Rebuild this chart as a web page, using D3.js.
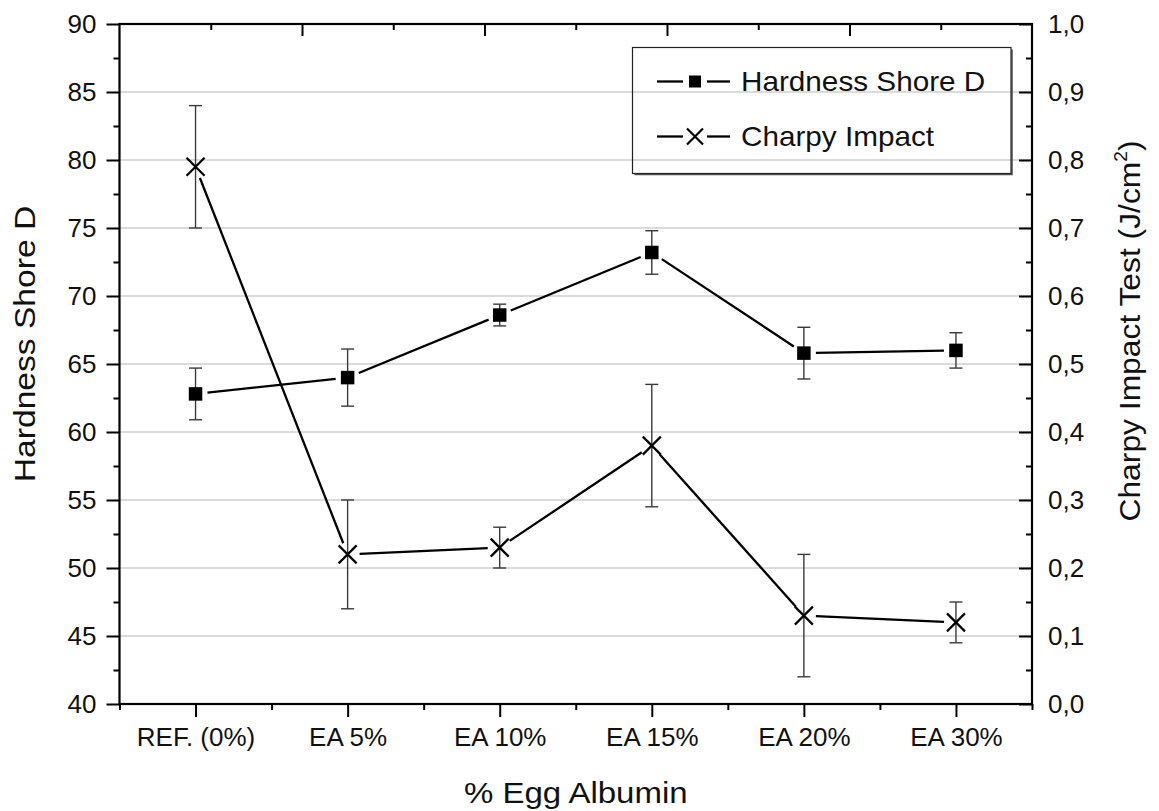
<!DOCTYPE html>
<html>
<head>
<meta charset="utf-8">
<script src="https://cdn.jsdelivr.net/npm/d3@7"></script>
<style>
  html, body { margin: 0; padding: 0; background: #fff; }
  svg { display: block; }
  text { font-family: "Liberation Sans", Arial, Helvetica, sans-serif; fill: #111; }
</style>
</head>
<body>
<svg id="chart" width="1159" height="811"></svg>
<script>
// ---------------- data ----------------
const categories = ["REF. (0%)", "EA 5%", "EA 10%", "EA 15%", "EA 20%", "EA 30%"];
const hardness = [62.8, 64.0, 68.6, 73.2, 65.8, 66.0];
const hardnessErr = [1.9, 2.1, 0.8, 1.6, 1.9, 1.3];
const charpy = [0.79, 0.22, 0.23, 0.38, 0.13, 0.12];
const charpyErr = [0.09, 0.08, 0.03, 0.09, 0.09, 0.03];
const leftTicks = [40, 45, 50, 55, 60, 65, 70, 75, 80, 85, 90];
const leftMinor = [42.5, 47.5, 52.5, 57.5, 62.5, 67.5, 72.5, 77.5, 82.5, 87.5];
const rightTicks = [0, 0.1, 0.2, 0.3, 0.4, 0.5, 0.6, 0.7, 0.8, 0.9, 1.0];
const rightMinor = [0.05, 0.15, 0.25, 0.35, 0.45, 0.55, 0.65, 0.75, 0.85, 0.95];
const seriesNames = ["Hardness Shore D", "Charpy Impact"];
const xTitle = "% Egg Albumin";
const yLeftTitle = "Hardness Shore D";
const yRightTitle = "Charpy Impact Test (J/cm";

// ---------------- layout ----------------
const L = 119.5, R = 1032, T = 24, B = 704;
const svg = d3.select("#chart");
const font = '"Liberation Sans", Arial, Helvetica, sans-serif';

const idx = categories.map((d, i) => i + 1);
const x = d3.scaleLinear().domain([0.5, 6.5]).range([L, R]);
const yL = d3.scaleLinear().domain([40, 90]).range([B, T]);
const yR = d3.scaleLinear().domain([0, 1]).range([B, T]);
const xTop = d3.scaleLinear().domain([0, 10]).range([L, R]);

// gridlines
svg.append("g")
  .selectAll("line")
  .data(leftTicks.filter(v => v > 40 && v < 90))
  .join("line")
  .attr("x1", L).attr("x2", R)
  .attr("y1", d => yL(d)).attr("y2", d => yL(d))
  .attr("stroke", "#cfcfcf").attr("stroke-width", 1.3);

function styleAxis(g, sw) {
  g.select(".domain").remove();
  g.selectAll(".tick line").attr("stroke", "#000").attr("stroke-width", sw || 2);
  g.selectAll("text").attr("font-size", 26).attr("fill", "#111").attr("font-family", font);
}

// left axis
svg.append("g").attr("transform", `translate(${L},0)`)
  .call(d3.axisLeft(yL).tickValues(leftTicks).tickSize(13).tickPadding(10).tickFormat(d3.format("d")))
  .call(g => styleAxis(g));
svg.append("g").attr("transform", `translate(${L},0)`)
  .call(d3.axisLeft(yL).tickValues(leftMinor).tickSize(6).tickFormat(""))
  .call(g => styleAxis(g));

// right axis (inward ticks)
const commaFmt = d => d3.format(".1f")(d).replace(".", ",");
svg.append("g").attr("transform", `translate(${R},0)`)
  .call(d3.axisRight(yR).tickValues(rightTicks).tickSize(-13).tickPadding(16).tickFormat(commaFmt))
  .call(g => styleAxis(g));
svg.append("g").attr("transform", `translate(${R},0)`)
  .call(d3.axisRight(yR).tickValues(rightMinor).tickSize(-6).tickFormat(""))
  .call(g => styleAxis(g));

// bottom axis
svg.append("g").attr("transform", `translate(0,${B})`)
  .call(d3.axisBottom(x).tickValues(idx).tickSize(13).tickPadding(11).tickFormat((d, i) => categories[i]))
  .call(g => styleAxis(g));
svg.append("g").attr("transform", `translate(0,${B})`)
  .call(d3.axisBottom(x).tickValues([0.5, 1.5, 2.5, 3.5, 4.5, 5.5, 6.5]).tickSize(6).tickFormat(""))
  .call(g => styleAxis(g));

// top axis (inward, unlabeled)
svg.append("g").attr("transform", `translate(0,${T})`)
  .call(d3.axisTop(xTop).tickValues([2, 4, 6, 8]).tickSize(-12).tickFormat(""))
  .call(g => styleAxis(g));
svg.append("g").attr("transform", `translate(0,${T})`)
  .call(d3.axisTop(xTop).tickValues([1, 3, 5, 7, 9]).tickSize(-6).tickFormat(""))
  .call(g => styleAxis(g));

// frame
svg.append("rect").attr("x", L).attr("y", T).attr("width", R - L).attr("height", B - T)
  .attr("fill", "none").attr("stroke", "#000").attr("stroke-width", 2.2);

// ---------------- titles ----------------
function scaledText(tx, ty, rot, sx, size, str) {
  const g = svg.append("g").attr("transform", `translate(${tx},${ty}) rotate(${rot}) scale(${sx},1)`);
  const t = g.append("text").attr("x", 0).attr("y", 0).attr("text-anchor", "middle")
    .attr("font-size", size).attr("font-family", font).text(str);
  return t;
}
scaledText((L + R) / 2, 803, 0, 1.1, 30, xTitle);
scaledText(35, 344, -90, 1.12, 30, yLeftTitle);
const rt = scaledText(1140, 331, -90, 1.06, 30, yRightTitle);
rt.append("tspan").attr("font-size", 18).attr("dy", -13).text("2");
rt.append("tspan").attr("dy", 13).text(")");

// ---------------- series ----------------
const ptsH = idx.map((d, i) => [x(d), yL(hardness[i])]);
const ptsC = idx.map((d, i) => [x(d), yR(charpy[i])]);

function gappedSegments(pts, gap) {
  const segs = [];
  for (let i = 0; i < pts.length - 1; i++) {
    const [x1, y1] = pts[i], [x2, y2] = pts[i + 1];
    const len = Math.hypot(x2 - x1, y2 - y1);
    const ux = (x2 - x1) / len, uy = (y2 - y1) / len;
    segs.push([x1 + ux * gap, y1 + uy * gap, x2 - ux * gap, y2 - uy * gap]);
  }
  return segs;
}

// error bars
function errorBars(cx, vals, errs, scale) {
  const g = svg.append("g").attr("stroke", "#3a3a3a").attr("stroke-width", 1.4).attr("fill", "none");
  vals.forEach((v, i) => {
    const xx = x(cx[i]);
    const yTop = scale(v + errs[i]), yBot = scale(v - errs[i]);
    g.append("line").attr("x1", xx).attr("x2", xx).attr("y1", yTop).attr("y2", yBot);
    g.append("line").attr("x1", xx - 6.5).attr("x2", xx + 6.5).attr("y1", yTop).attr("y2", yTop);
    g.append("line").attr("x1", xx - 6.5).attr("x2", xx + 6.5).attr("y1", yBot).attr("y2", yBot);
  });
}
errorBars(idx, hardness, hardnessErr, yL);
errorBars(idx, charpy, charpyErr, yR);

// lines
[ptsH, ptsC].forEach(pts => {
  svg.append("g").selectAll("line").data(gappedSegments(pts, 12)).join("line")
    .attr("x1", d => d[0]).attr("y1", d => d[1]).attr("x2", d => d[2]).attr("y2", d => d[3])
    .attr("stroke", "#000").attr("stroke-width", 2.3).attr("stroke-linecap", "butt");
});

// markers
const SQ = 13.5, XS = 9;
function square(g, cx, cy, s) {
  g.append("rect").attr("x", cx - s / 2).attr("y", cy - s / 2).attr("width", s).attr("height", s).attr("fill", "#000");
}
function cross(g, cx, cy, s) {
  g.append("path").attr("d", `M${cx - s},${cy - s}L${cx + s},${cy + s}M${cx - s},${cy + s}L${cx + s},${cy - s}`)
    .attr("stroke", "#000").attr("stroke-width", 2.2).attr("fill", "none");
}
const mg = svg.append("g");
ptsH.forEach(p => square(mg, p[0], p[1], SQ));
ptsC.forEach(p => cross(mg, p[0], p[1], XS));

// ---------------- legend ----------------
const lgX = 632.5, lgY = 47.5, lgW = 378.5, lgH = 126;
const lg = svg.append("g");
lg.append("path").attr("d", `M${lgX + 2},${lgY + lgH + 1}H${lgX + lgW + 1}V${lgY + 2}`)
  .attr("stroke", "#555").attr("stroke-width", 1.6).attr("fill", "none");
lg.append("rect").attr("x", lgX).attr("y", lgY).attr("width", lgW).attr("height", lgH)
  .attr("fill", "none").attr("stroke", "#222").attr("stroke-width", 1.2);
const rows = [lgY + 34, lgY + 89];
const symCx = 695;
seriesNames.forEach((name, i) => {
  const cy = rows[i];
  lg.append("line").attr("x1", symCx - 38).attr("x2", symCx - 12).attr("y1", cy).attr("y2", cy)
    .attr("stroke", "#000").attr("stroke-width", 2.3);
  lg.append("line").attr("x1", symCx + 12).attr("x2", symCx + 35).attr("y1", cy).attr("y2", cy)
    .attr("stroke", "#000").attr("stroke-width", 2.3);
  if (i === 0) square(lg, symCx, cy, 12); else cross(lg, symCx, cy, 8);
  const g = lg.append("g").attr("transform", `translate(741,${cy + 9.5}) scale(1.1,1)`);
  g.append("text").attr("font-size", 27).attr("font-family", font).text(name);
});
</script>
</body>
</html>
